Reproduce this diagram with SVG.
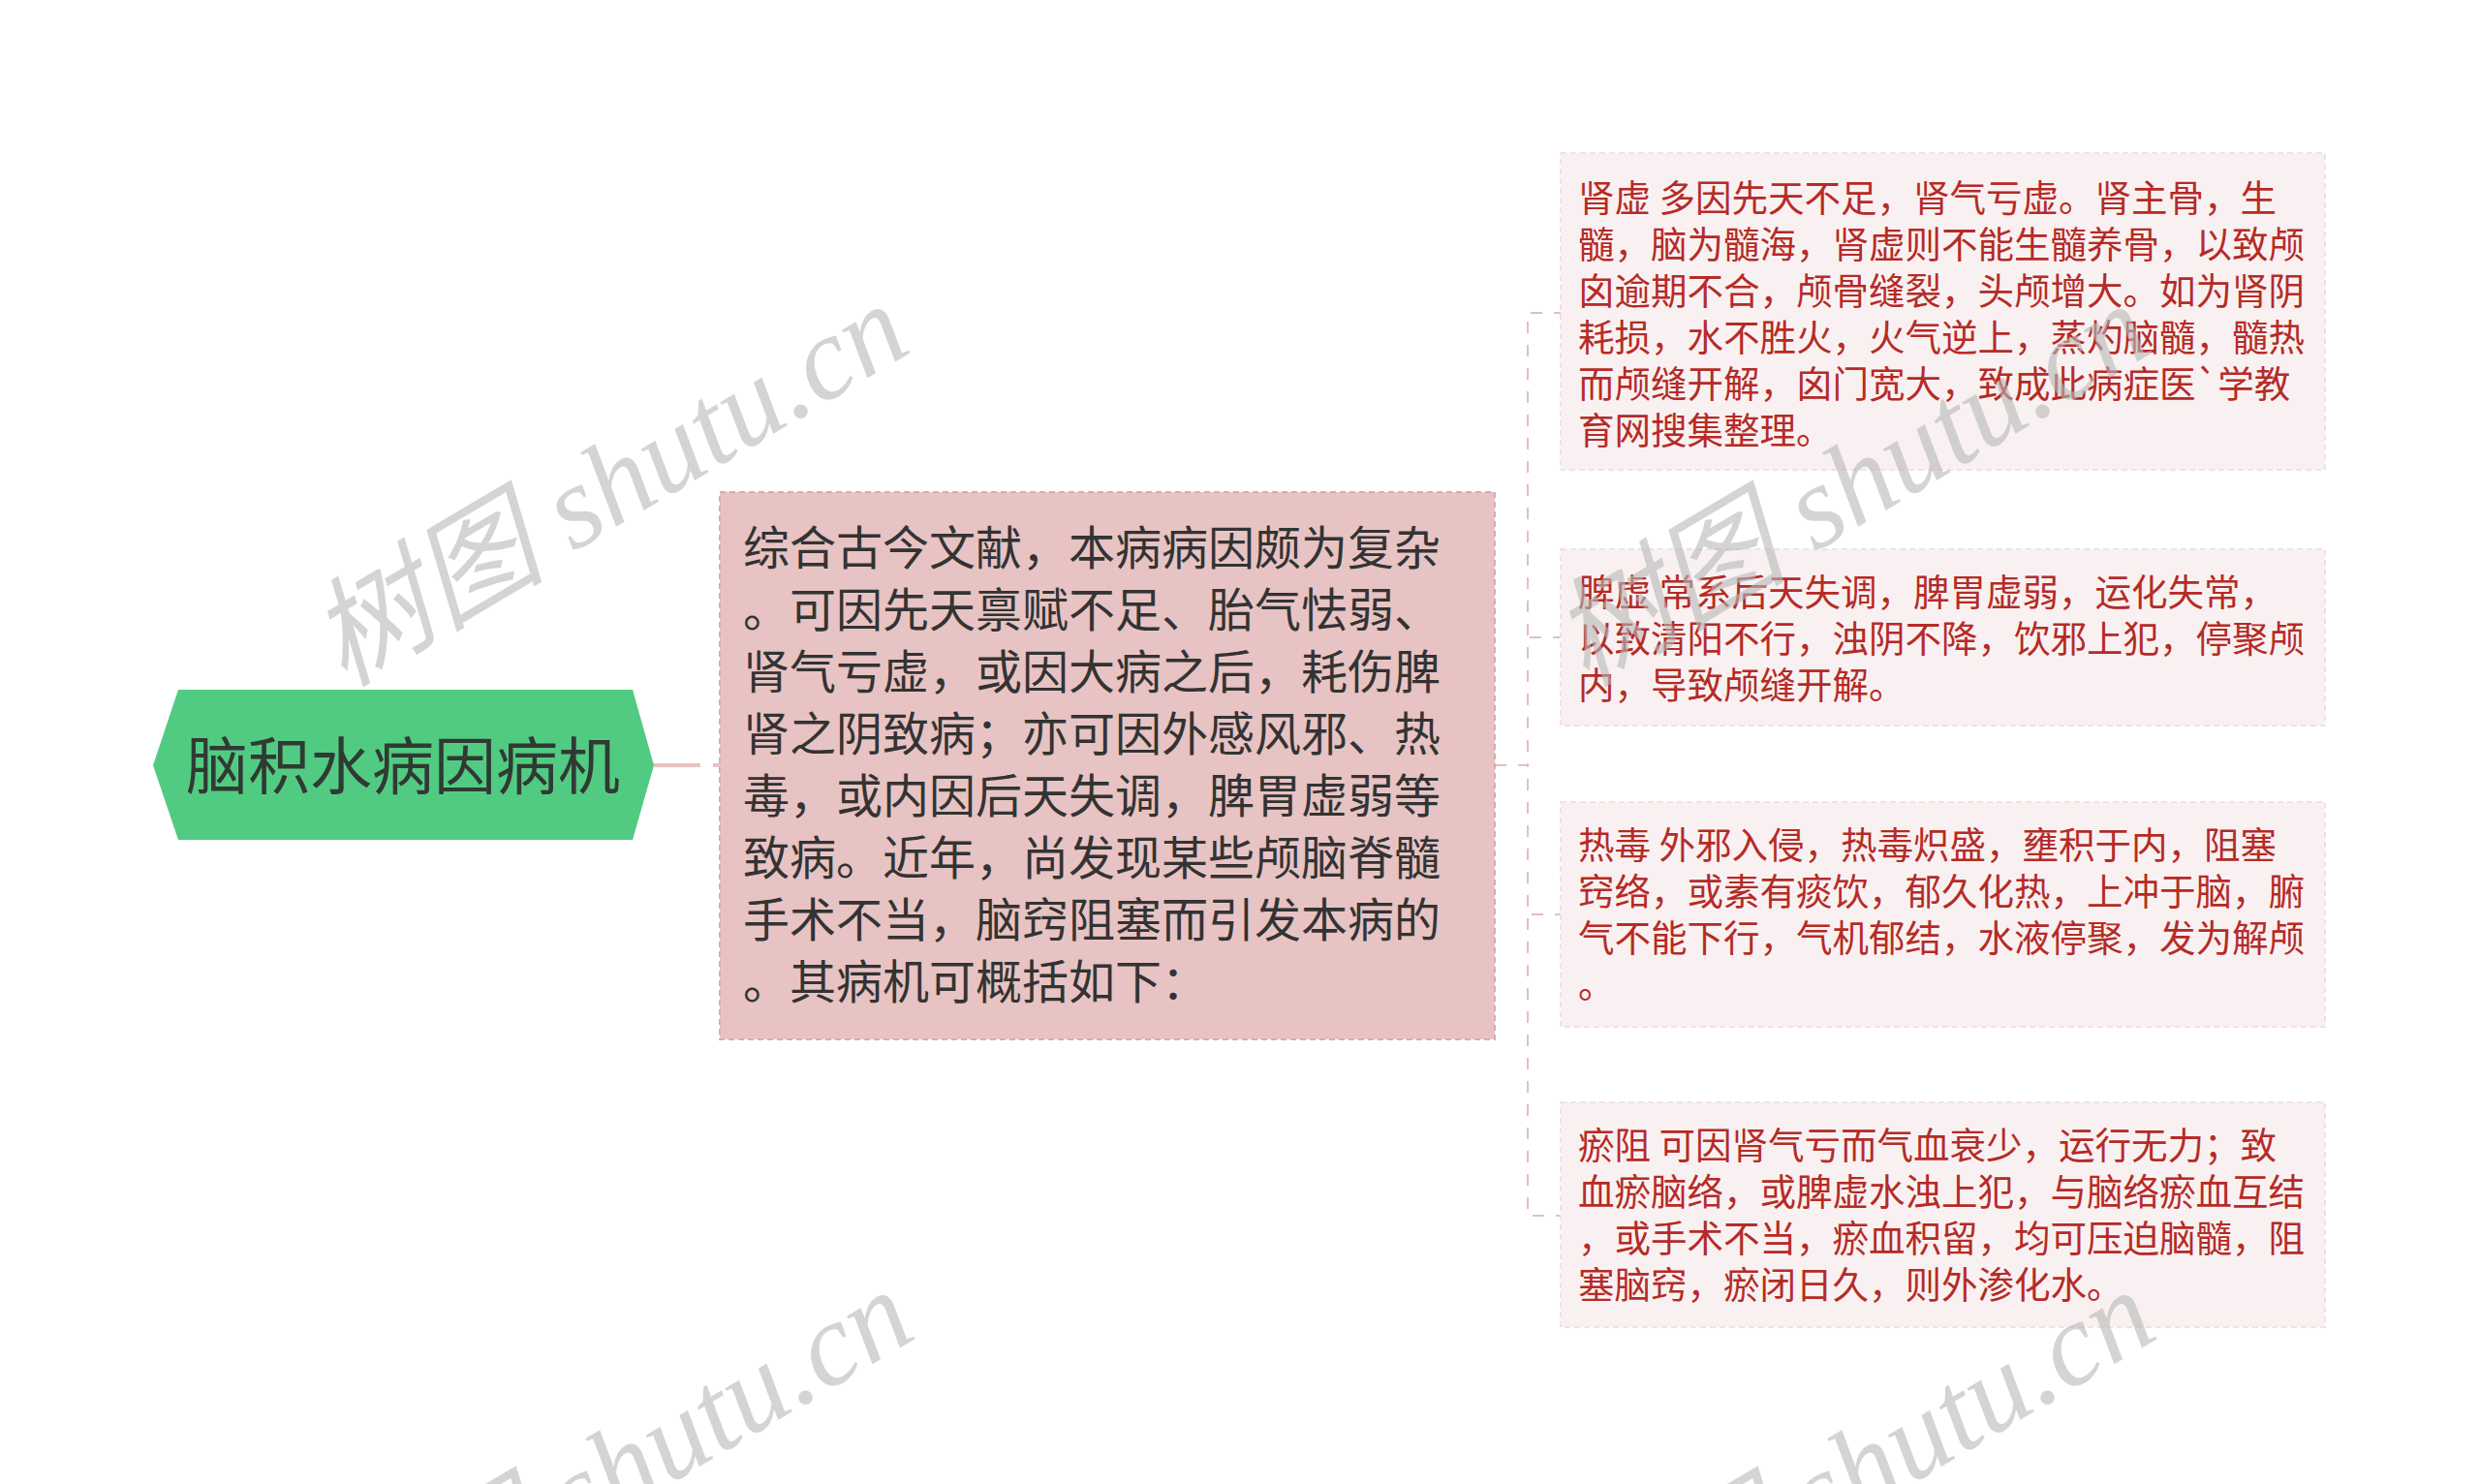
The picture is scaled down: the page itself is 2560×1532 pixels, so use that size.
<svg xmlns="http://www.w3.org/2000/svg" width="2560" height="1532" viewBox="0 0 2560 1532">
<style>
.cjk{font-family:"Noto Sans CJK SC","Noto Sans",sans-serif;}
.root{font-size:64px;fill:#2f3a33;}
.mid{font-size:48px;fill:#333333;}
.leaf{font-size:37.5px;fill:#b52b27;}
.wm{font-family:"Liberation Serif","Noto Sans CJK SC",serif;font-style:italic;font-size:122px;fill:#b8b8b8;opacity:0.6;}
.link{fill:none;stroke:#e3bfbf;stroke-width:2;stroke-dasharray:12 12;}
.leafbox{fill:#f9f1f1;stroke:#f1e2e2;stroke-width:2;stroke-dasharray:6 4;}
</style>
<rect x="0" y="0" width="2560" height="1532" fill="#ffffff"/>
<g id="connectors">
<line x1="675" y1="790" x2="743" y2="790" stroke="#e8c2c2" stroke-width="4" stroke-dasharray="48 13"/>
<path class="link" d="M1543,790 H1577 V323 H1611"/>
<path class="link" d="M1543,790 H1577 V658 H1611"/>
<path class="link" d="M1543,790 H1577 V944 H1611"/>
<path class="link" d="M1543,790 H1577 V1255 H1611"/>
</g>
<g id="node-root">
<polygon points="158,790 184,712 653,712 675,790 653,867 184,867" fill="#52cb82"/>
<text class="cjk root" x="416" y="814" text-anchor="middle">脑积水病因病机</text>
</g>
<g id="node-main">
<rect x="743" y="508" width="800" height="565" fill="#e8c3c3" stroke="#d8adad" stroke-width="2" stroke-dasharray="6 4"/>
<text class="cjk mid">
<tspan x="767" y="583">综合古今文献，本病病因颇为复杂</tspan>
<tspan x="767" y="647">。可因先天禀赋不足、胎气怯弱、</tspan>
<tspan x="767" y="711">肾气亏虚，或因大病之后，耗伤脾</tspan>
<tspan x="767" y="775">肾之阴致病；亦可因外感风邪、热</tspan>
<tspan x="767" y="839">毒，或内因后天失调，脾胃虚弱等</tspan>
<tspan x="767" y="903">致病。近年，尚发现某些颅脑脊髓</tspan>
<tspan x="767" y="967">手术不当，脑窍阻塞而引发本病的</tspan>
<tspan x="767" y="1031">。其病机可概括如下：</tspan>
</text>
</g>
<g id="node-shenxu">
<rect class="leafbox" x="1611" y="158" width="789" height="327"/>
<text class="cjk leaf">
<tspan x="1629" y="218">肾虚 多因先天不足，肾气亏虚。肾主骨，生</tspan>
<tspan x="1629" y="266">髓，脑为髓海，肾虚则不能生髓养骨，以致颅</tspan>
<tspan x="1629" y="314">囟逾期不合，颅骨缝裂，头颅增大。如为肾阴</tspan>
<tspan x="1629" y="362">耗损，水不胜火，火气逆上，蒸灼脑髓，髓热</tspan>
<tspan x="1629" y="410">而颅缝开解，囟门宽大，致成此病症医`学教</tspan>
<tspan x="1629" y="458">育网搜集整理。</tspan>
</text>
</g>
<g id="node-pixu">
<rect class="leafbox" x="1611" y="567" width="789" height="182"/>
<text class="cjk leaf">
<tspan x="1629" y="625">脾虚 常系后天失调，脾胃虚弱，运化失常，</tspan>
<tspan x="1629" y="673">以致清阳不行，浊阴不降，饮邪上犯，停聚颅</tspan>
<tspan x="1629" y="721">内，导致颅缝开解。</tspan>
</text>
</g>
<g id="node-redu">
<rect class="leafbox" x="1611" y="828" width="789" height="232"/>
<text class="cjk leaf">
<tspan x="1629" y="886">热毒 外邪入侵，热毒炽盛，壅积于内，阻塞</tspan>
<tspan x="1629" y="934">窍络，或素有痰饮，郁久化热，上冲于脑，腑</tspan>
<tspan x="1629" y="982">气不能下行，气机郁结，水液停聚，发为解颅</tspan>
<tspan x="1629" y="1030">。</tspan>
</text>
</g>
<g id="node-yuzu">
<rect class="leafbox" x="1611" y="1138" width="789" height="232"/>
<text class="cjk leaf">
<tspan x="1629" y="1196">瘀阻 可因肾气亏而气血衰少，运行无力；致</tspan>
<tspan x="1629" y="1244">血瘀脑络，或脾虚水浊上犯，与脑络瘀血互结</tspan>
<tspan x="1629" y="1292">，或手术不当，瘀血积留，均可压迫脑髓，阻</tspan>
<tspan x="1629" y="1340">塞脑窍，瘀闭日久，则外渗化水。</tspan>
</text>
</g>
<g id="watermarks">
<text class="wm" x="355" y="710" transform="rotate(-30.6 355 710)">树图 shutu.cn</text>
<text class="wm" x="1637" y="710" transform="rotate(-30.6 1637 710)">树图 shutu.cn</text>
<text class="wm" x="360" y="1728" transform="rotate(-30.6 360 1728)">树图 shutu.cn</text>
<text class="wm" x="1642" y="1728" transform="rotate(-30.6 1642 1728)">树图 shutu.cn</text>
</g>
</svg>
